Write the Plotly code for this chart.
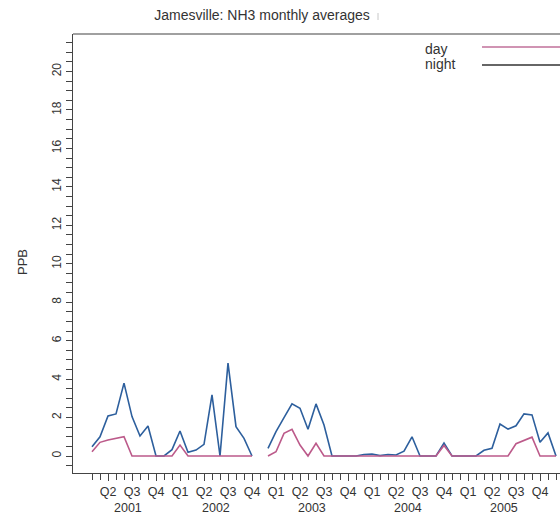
import plotly.graph_objects as go

# ---- data (monthly averages, PPB) ----
months = ["2001-03", "2001-04", "2001-05", "2001-06", "2001-07", "2001-08", "2001-09", "2001-10", "2001-11", "2001-12",
          "2002-01", "2002-02", "2002-03", "2002-04", "2002-05", "2002-06", "2002-07", "2002-08", "2002-09", "2002-10", "2002-11", "2002-12",
          "2003-01", "2003-02", "2003-03", "2003-04", "2003-05", "2003-06", "2003-07", "2003-08", "2003-09", "2003-10", "2003-11", "2003-12",
          "2004-01", "2004-02", "2004-03", "2004-04", "2004-05", "2004-06", "2004-07", "2004-08", "2004-09", "2004-10", "2004-11", "2004-12",
          "2005-01", "2005-02", "2005-03", "2005-04", "2005-05", "2005-06", "2005-07", "2005-08", "2005-09", "2005-10", "2005-11", "2005-12",
          "2006-01"]

night = [0.48, 1.00, 2.08, 2.19, 3.79, 2.05, 1.04, 1.56, 0.00, 0.00,
         0.33, 1.30, 0.19, 0.31, 0.61, 3.18, 0.00, 4.83, 1.53, 0.92, 0.00, None,
         0.40, 1.27, 2.00, 2.71, 2.48, 1.39, 2.71, 1.61, 0.00, 0.00, 0.00, 0.00,
         0.08, 0.10, 0.02, 0.08, 0.05, 0.25, 1.00, 0.00, 0.00, 0.00, 0.68, 0.00,
         0.00, 0.00, 0.00, 0.30, 0.40, 1.66, 1.40, 1.57, 2.19, 2.14, 0.72, 1.20,
         0.00]

day = [0.22, 0.71, 0.83, 0.92, 1.00, 0.00, 0.00, 0.00, 0.00, 0.00,
       0.00, 0.57, 0.00, 0.00, 0.00, 0.00, 0.00, 0.00, 0.00, 0.00, 0.00, None,
       0.00, 0.22, 1.18, 1.39, 0.57, 0.00, 0.66, 0.00, 0.00, 0.00, 0.00, 0.00,
       0.00, 0.00, 0.00, 0.00, 0.00, 0.00, 0.00, 0.00, 0.00, 0.00, 0.55, 0.00,
       0.00, 0.00, 0.00, 0.00, 0.00, 0.00, 0.00, 0.64, 0.81, 0.98, 0.00, 0.00,
       0.00]

year_labels = ["2001", "2002", "2003", "2004", "2005"]
y_tick_values = [0, 2, 4, 6, 8, 10, 12, 14, 16, 18, 20]

# ---- derived positions (month index, Jan 2001 = 1) ----
def month_index(s):
    y, m = s.split("-")
    return (int(y) - 2001) * 12 + int(m)

xi = [month_index(s) for s in months]
q_vals, q_text = [], []
for s, x in zip(months, xi):
    m = int(s.split("-")[1])
    if m % 3 == 2:
        q_vals.append(x)
        q_text.append("Q%d" % ((m + 1) // 3))

FONT = "Arial, 'Liberation Sans', sans-serif"
AX = "#444444"

fig = go.Figure()
fig.add_trace(go.Scatter(x=xi, y=night, mode="lines", name="night",
                         line=dict(color="#2d5f9d", width=1.6), connectgaps=False))
fig.add_trace(go.Scatter(x=xi, y=day, mode="lines", name="day",
                         line=dict(color="#bc5a8a", width=1.6), connectgaps=False))

fig.update_layout(
    width=560, height=516, autosize=False,
    margin=dict(l=73, r=0, t=34, b=43),
    paper_bgcolor="white", plot_bgcolor="white",
    showlegend=False,
    font=dict(family=FONT, color="#333333"),
    title=dict(text="Jamesville: NH3 monthly averages", x=262 / 560, xanchor="center",
               xref="container", y=1 - 15 / 516, yanchor="middle", yref="container",
               font=dict(size=14, family=FONT, color="#333333")),
)

fig.update_xaxes(
    range=[0.625, 61.5], showgrid=False, zeroline=False,
    showline=True, linecolor=AX, linewidth=1,
    tickmode="array", tickvals=q_vals, ticktext=q_text,
    ticks="outside", ticklen=7, tickwidth=1, tickcolor=AX,
    tickfont=dict(size=12.5, family=FONT, color="#333333"),
    minor=dict(tickmode="array", tickvals=xi, ticks="outside", ticklen=6, tickwidth=1, tickcolor=AX),
)
fig.update_yaxes(
    range=[-0.884, 21.95], showgrid=False, zeroline=False,
    showline=True, linecolor=AX, linewidth=1,
    tickmode="array", tickvals=y_tick_values, ticktext=[str(v) for v in y_tick_values],
    ticks="outside", ticklen=6, tickwidth=1, tickcolor=AX, tickangle=-90,
    tickfont=dict(size=12, family=FONT, color="#333333"),
    minor=dict(tickmode="linear", tick0=0, dtick=0.5, ticks="outside", ticklen=6, tickwidth=1, tickcolor=AX),
)

# top border
fig.add_shape(type="line", xref="paper", yref="paper", x0=0, x1=1, y0=1, y1=1,
              line=dict(color="#808080", width=1.5))

# y-axis title
fig.add_annotation(text="PPB", xref="paper", yref="paper", x=(22 - 73) / 487, y=(473 - 262) / 439,
                   textangle=-90, showarrow=False, font=dict(size=13, family=FONT, color="#333333"),
                   xanchor="center", yanchor="middle")

# year labels under the quarter labels
for yl in year_labels:
    pos = [x for s, x in zip(months, xi) if s.startswith(yl)]
    fig.add_annotation(text=yl, xref="x", yref="paper", x=sum(pos) / len(pos), y=-(515.5 - 473) / 439,
                       showarrow=False, xanchor="center", yanchor="bottom", borderpad=0,
                       font=dict(size=12.5, family=FONT, color="#333333"))

# custom legend (text left, line right)
PH = 439.0
def py(pix):
    return (473 - pix) / PH
def px(pix):
    return (pix - 73) / 487.0

for name, ty, ly, col in [("day", 48.5, 47, "#c0709a"), ("night", 63.5, 65, "#333333")]:
    fig.add_annotation(text=name, xref="paper", yref="paper", x=px(423), y=py(ty),
                       showarrow=False, xanchor="left", yanchor="middle",
                       font=dict(size=14, family=FONT, color="#333333"))
    fig.add_shape(type="line", xref="paper", yref="paper", x0=px(482), x1=1.0, y0=py(ly), y1=py(ly),
                  line=dict(color=col, width=1.5))

# small grey mark after the title
fig.add_shape(type="line", xref="paper", yref="paper", x0=px(378), x1=px(378), y0=py(13), y1=py(20),
              line=dict(color="#c8c8c8", width=1))

fig.write_html("out.html")
